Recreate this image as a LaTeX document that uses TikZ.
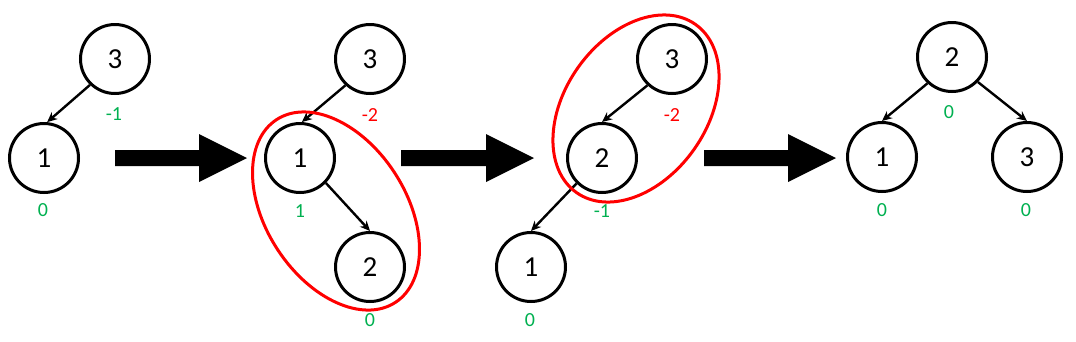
\documentclass[tikz,border=0pt]{standalone}
\usepackage{fontspec}
\setmainfont{Carlito}
\usetikzlibrary{arrows.meta}
\definecolor{bfgreen}{RGB}{0,176,80}
\definecolor{bfred}{RGB}{255,0,0}
\begin{document}
\begin{tikzpicture}[x=1pt,y=-1pt,
  tn/.style={circle,draw=black,line width=3pt,minimum size=69pt,inner sep=0pt,font=\fontsize{29}{29}\selectfont},
  bf/.style={font=\fontsize{20}{20}\selectfont,text=bfgreen,inner sep=0pt},
  bfr/.style={bf,text=bfred},
  edge/.style={draw=black,line width=2.4pt,-{Stealth[length=10pt,width=9pt]}},
  grp/.style={draw=bfred,line width=3pt},
  bigarrow/.style={fill=black}]
\useasboundingbox (0,0) rectangle (1076,341);
% panel 1
\node[tn] (a3) at (115,59) {3};
\node[tn] (a1) at (44,158) {1};
\node[bf] (la3) at (114,114) {-1};
\node[bf] (la1) at (43,210) {0};
\draw[edge] (a3.-134) -- (a1.85);
% arrow 1
\coordinate (A1) at (115,158);
\fill[bigarrow] (A1) ++(0,-8) -- ++(84,0) -- ++(0,-16) -- ++(48,24) -- ++(-48,24) -- ++(0,-16) -- ++(-84,0) -- cycle;
% panel 2
\node[tn] (b3) at (370,59) {3};
\node[tn] (b1) at (300,158) {1};
\node[tn] (b2) at (370,267) {2};
\node[bfr] (lb3) at (370,115) {-2};
\node[bf] (lb1) at (300,211) {1};
\node[bf] (lb2) at (370,320) {0};
\draw[edge] (b3.-133) -- (b1.87);
\draw[edge] (b1.-44) -- (b2.north);
\draw[grp] (336,211) ellipse[x radius=109pt,y radius=70pt,rotate=-57];
% arrow 2
\coordinate (A2) at (401,158);
\fill[bigarrow] (A2) ++(0,-8) -- ++(85,0) -- ++(0,-16) -- ++(48,24) -- ++(-48,24) -- ++(0,-16) -- ++(-85,0) -- cycle;
% panel 3
\node[tn] (c3) at (672,59) {3};
\node[tn] (c2) at (602,158) {2};
\node[tn] (c1) at (531,267) {1};
\node[bfr] (lc3) at (672,115) {-2};
\node[bf] (lc2) at (602,211) {-1};
\node[bf] (lc1) at (530,320) {0};
\draw[edge] (c3.-133) -- (c2.north);
\draw[edge] (c2.-135) -- (c1.north);
\draw[grp] (636,108.5) ellipse[x radius=103pt,y radius=71pt,rotate=54.7];
% arrow 3
\coordinate (A3) at (704,158);
\fill[bigarrow] (A3) ++(0,-8) -- ++(84,0) -- ++(0,-16) -- ++(48,24) -- ++(-48,24) -- ++(0,-16) -- ++(-84,0) -- cycle;
% panel 4
\node[tn] (d2) at (952,57) {2};
\node[tn] (d1) at (882,157) {1};
\node[tn] (d3) at (1027,157) {3};
\node[bf] (ld2) at (949,112) {0};
\node[bf] (ld1) at (882,210) {0};
\node[bf] (ld3) at (1026,210) {0};
\draw[edge] (d2.-133) -- (d1.north);
\draw[edge] (d2.-44) -- (d3.north);
\end{tikzpicture}
\end{document}
